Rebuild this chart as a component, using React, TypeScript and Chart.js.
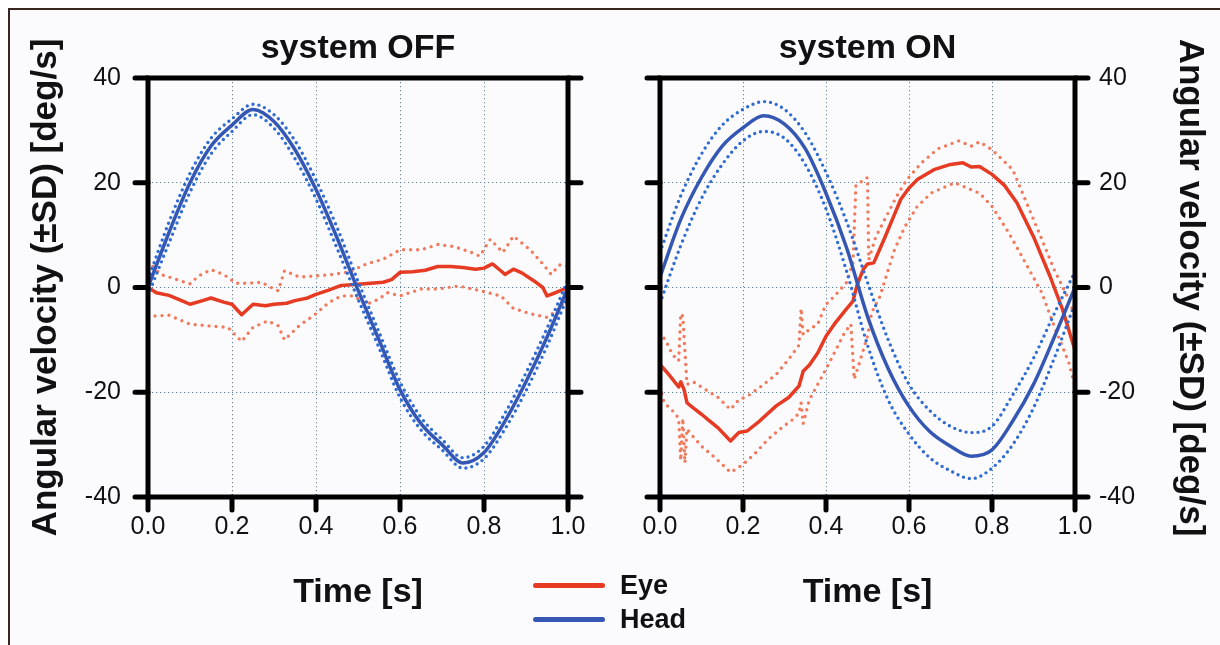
import React, { useEffect, useRef } from "react";
import { Chart, registerables } from "chart.js";

Chart.register(...registerables);

// ---------- text ----------
const panelTitles = ["system OFF", "system ON"];
const yAxisTitle = "Angular velocity (±SD) [deg/s]";
const xAxisTitle = "Time [s]";
const legendLabels = ["Eye", "Head"];

// ---------- axes ----------
const xMin = 0;
const xMax = 1;
const xStep = 0.2;
const yMin = -40;
const yMax = 40;
const yStep = 20;

// ---------- head (regular time base) ----------
const headTime = [0, 0.05, 0.1, 0.15, 0.2, 0.25, 0.3, 0.35, 0.4, 0.45, 0.5, 0.55, 0.6, 0.65, 0.7, 0.75, 0.8, 0.85, 0.9, 0.95, 1];

const offHeadMean = [0, 10.5, 20, 27, 31, 34, 31.7, 26.3, 18.7, 9.5, -0.5, -10, -19.5, -26, -30, -33.5, -31.5, -25.5, -18, -9.5, 0];
const offHeadUpper = [1.5, 12.5, 21.8, 28.5, 32.2, 35, 33, 28, 20.5, 11.5, 1.2, -8.5, -18, -24.8, -29, -32.5, -30.3, -24, -16.3, -7.8, 1.5];
const offHeadLower = [-1.5, 8.5, 18.2, 25.5, 29.8, 33, 30.4, 24.6, 16.9, 7.5, -2.2, -11.5, -21, -27.2, -31, -34.5, -32.7, -27, -19.7, -11.2, -1.5];

const onHeadMean = [2, 13, 21, 27, 30.5, 32.8, 31.2, 26.5, 18, 7.5, -5.5, -15.5, -22.7, -27.5, -30.3, -32.2, -31, -25.5, -18.5, -9.5, 0];
const onHeadUpper = [6.7, 17.5, 25.5, 31, 34, 35.5, 34, 29.5, 22, 12.5, 1, -10, -18.5, -23.5, -26.5, -27.7, -26.5, -20.5, -13.5, -5, 3];
const onHeadLower = [-3, 8, 17, 23.5, 28, 29.8, 28.5, 23.5, 15, 3, -11, -21.5, -28, -32.5, -35, -36.5, -34.5, -30, -23, -13.5, -3];

// ---------- eye, system OFF ----------
const offEyeMeanT = [0, 0.02, 0.05, 0.08, 0.1, 0.13, 0.15, 0.18, 0.2, 0.223, 0.25, 0.28, 0.3, 0.33, 0.35, 0.38, 0.4, 0.43, 0.46, 0.5, 0.53, 0.56, 0.58, 0.6, 0.63, 0.66, 0.69, 0.72, 0.75, 0.78, 0.8, 0.82, 0.84, 0.85, 0.87, 0.89, 0.92, 0.94, 0.95, 0.97, 1.0];
const offEyeMean = [0, -1, -1.5, -2.5, -3.2, -2.5, -2, -2.8, -3.2, -5.2, -3.2, -3.5, -3.2, -3, -2.5, -2, -1.3, -0.5, 0.4, 0.6, 0.8, 1, 1.5, 2.9, 3, 3.3, 4, 4, 3.8, 3.5, 3.7, 4.5, 3.2, 2.5, 3.5, 2.8, 1.2, 0, -1.6, -1, 0];

const offEyeUpperT = [0, 0.03, 0.05, 0.08, 0.1, 0.12, 0.15, 0.18, 0.21, 0.24, 0.27, 0.3, 0.31, 0.325, 0.36, 0.4, 0.44, 0.48, 0.52, 0.56, 0.6, 0.65, 0.69, 0.73, 0.77, 0.79, 0.815, 0.845, 0.87, 0.91, 0.94, 0.96, 0.98, 1.0];
const offEyeUpper = [5, 2.5, 2, 1.2, 0.7, 2.2, 3.4, 2.5, 0.8, 0.8, 1, -0.3, -0.6, 3.2, 2, 2.2, 2.5, 3, 4.5, 5.4, 7.2, 7.2, 8.2, 7.8, 6.7, 6, 9.2, 6.7, 9.8, 7.2, 4.5, 2.5, 4.3, 4];

const offEyeLowerT = [0, 0.05, 0.1, 0.14, 0.19, 0.223, 0.25, 0.285, 0.31, 0.325, 0.36, 0.4, 0.43, 0.46, 0.49, 0.52, 0.55, 0.57, 0.6, 0.65, 0.69, 0.74, 0.79, 0.84, 0.87, 0.91, 0.95, 0.98, 1.0];
const offEyeLower = [-5.5, -5.3, -7, -7.3, -7.6, -10.3, -7.6, -6.4, -7.3, -10, -7.3, -5, -2.9, -1.6, -1.6, -3.2, -2.2, -1, -1.6, -0.3, -0.3, 0.3, -0.6, -1.6, -4, -5, -5.7, -4, -1.5];

// ---------- eye, system ON ----------
const onEyeMeanT = [0, 0.02, 0.045, 0.05, 0.058, 0.065, 0.08, 0.1, 0.12, 0.14, 0.17, 0.18, 0.19, 0.21, 0.24, 0.28, 0.31, 0.335, 0.345, 0.36, 0.38, 0.4, 0.42, 0.445, 0.465, 0.475, 0.49, 0.5, 0.515, 0.54, 0.56, 0.58, 0.6, 0.62, 0.66, 0.7, 0.73, 0.75, 0.77, 0.8, 0.83, 0.86, 0.9, 0.94, 0.97, 1.0];
const onEyeMean = [-14.7, -16.5, -19, -18, -19.5, -22, -23, -24.2, -25.5, -26.8, -29.3, -28.5, -27.7, -27.4, -25.5, -22.6, -21, -18.8, -16, -14.8, -12.5, -9.3, -7, -4.5, -2.6, 0.5, 3.5, 4.5, 4.7, 9.2, 13, 16.8, 19, 20.6, 22.5, 23.5, 23.8, 23, 23.1, 21.6, 19.5, 16.2, 9.7, 2.1, -4.2, -12];

const onEyeUpperT = [0, 0.015, 0.03, 0.045, 0.05, 0.055, 0.06, 0.065, 0.08, 0.1, 0.12, 0.14, 0.17, 0.19, 0.21, 0.24, 0.28, 0.31, 0.335, 0.34, 0.345, 0.36, 0.38, 0.4, 0.42, 0.45, 0.465, 0.472, 0.5, 0.503, 0.52, 0.545, 0.57, 0.595, 0.63, 0.67, 0.72, 0.75, 0.77, 0.8, 0.85, 0.88, 0.92, 0.95, 0.985, 1.0];
const onEyeUpper = [-8.6, -10.3, -12.8, -14, -5, -5.5, -12, -18.5, -18, -19, -20, -21, -23.3, -21.4, -20.8, -19.1, -16.6, -13.7, -11, -4, -9, -8, -7, -3.2, -1.7, 1, 4.8, 19.5, 21, 5.3, 9.7, 13.5, 17.4, 20.6, 23.8, 26.5, 28, 27, 27.8, 26.3, 22.5, 16.8, 9.2, 3.4, -2.3, -5.5];

const onEyeLowerT = [0, 0.01, 0.03, 0.045, 0.05, 0.055, 0.06, 0.065, 0.08, 0.1, 0.137, 0.17, 0.2, 0.23, 0.26, 0.29, 0.32, 0.335, 0.34, 0.345, 0.36, 0.38, 0.4, 0.42, 0.445, 0.46, 0.468, 0.48, 0.5, 0.51, 0.53, 0.55, 0.565, 0.59, 0.62, 0.655, 0.71, 0.77, 0.8, 0.84, 0.88, 0.92, 0.95, 0.985, 1.0];
const onEyeLower = [-19, -22, -23.5, -25, -33, -25, -33.5, -27, -28.5, -30.3, -32.8, -35.3, -33.8, -31.6, -29, -27, -25.2, -24, -22, -26, -21.4, -18.5, -15.6, -12.5, -8.6, -7, -17.5, -14.5, -9.3, -4.8, -1.7, 3.4, 7.2, 11.6, 15.5, 18.1, 20, 18, 15.5, 10.5, 4.8, -1, -7.4, -14.3, -18.9];

// ---------- styles ----------
const EYE = "#e63a22";
const EYE_SD = "#f27a5c";
const HEAD = "#3457b4";
const HEAD_SD = "#2f6bd2";
const FONT = "'Liberation Sans', Arial, sans-serif";

const pts = (t: number[], v: number[]) => t.map((x, i) => ({ x, y: v[i] }));

function makeDatasets(p: {
  headMean: number[]; headUp: number[]; headLo: number[];
  eyeMeanT: number[]; eyeMean: number[];
  eyeUpT: number[]; eyeUp: number[];
  eyeLoT: number[]; eyeLo: number[];
}) {
  const solid = (data: any, color: string, smooth: boolean) => ({
    data, borderColor: color, borderWidth: 3.5, pointRadius: 0,
    tension: smooth ? 0.4 : 0, cubicInterpolationMode: smooth ? "monotone" : "default",
    borderCapStyle: "round", borderJoinStyle: "round", fill: false,
  });
  const dotted = (data: any, color: string, smooth: boolean, gap: number) => ({
    data, borderColor: color, borderWidth: 3.4, pointRadius: 0,
    tension: smooth ? 0.4 : 0, cubicInterpolationMode: smooth ? "monotone" : "default",
    borderDash: [0, gap], borderCapStyle: "round", borderJoinStyle: "round", fill: false,
  });
  return [
    solid(pts(headTime, p.headMean), HEAD, true),
    dotted(pts(headTime, p.headUp), HEAD_SD, true, 6),
    dotted(pts(headTime, p.headLo), HEAD_SD, true, 6),
    solid(pts(p.eyeMeanT, p.eyeMean), EYE, false),
    dotted(pts(p.eyeUpT, p.eyeUp), EYE_SD, false, 7),
    dotted(pts(p.eyeLoT, p.eyeLo), EYE_SD, false, 7),
  ];
}

const framePlugin = {
  id: "frame",
  afterDatasetsDraw(chart: any) {
    const { ctx, chartArea } = chart;
    const { left, right, top, bottom } = chartArea;
    const xs = chart.scales.x;
    const ys = chart.scales.y;
    ctx.save();
    ctx.strokeStyle = "#000";
    ctx.lineWidth = 5;
    ctx.lineCap = "round";
    ctx.beginPath();
    ys.ticks.forEach((t: any) => {
      const py = ys.getPixelForValue(t.value);
      ctx.moveTo(left - 13, py);
      ctx.lineTo(left, py);
      ctx.moveTo(right, py);
      ctx.lineTo(right + 13, py);
    });
    xs.ticks.forEach((t: any) => {
      const px = xs.getPixelForValue(t.value);
      ctx.moveTo(px, bottom);
      ctx.lineTo(px, bottom + 13);
    });
    ctx.stroke();
    ctx.lineCap = "butt";
    ctx.lineJoin = "miter";
    ctx.strokeRect(left, top, right - left, bottom - top);
    ctx.restore();
  },
};

function makeConfig(side: "left" | "right", title: string, datasets: any[]) {
  const zeroPad = (s: any) => {
    s.paddingLeft = 0; s.paddingRight = 0; s.paddingTop = 0; s.paddingBottom = 0;
  };
  return {
    type: "line",
    data: { datasets },
    plugins: [framePlugin],
    options: {
      responsive: false,
      animation: false,
      events: [],
      layout: { padding: side === "left" ? { left: 0, right: 42, top: 0, bottom: 0 } : { left: 50, right: 0, top: 0, bottom: 0 } },
      plugins: {
        legend: { display: false },
        tooltip: { enabled: false },
        title: {
          display: true,
          text: title,
          fullSize: false,
          color: "#111",
          font: { family: FONT, size: 34, weight: "bold", lineHeight: 1.2 },
          padding: { top: 28.6, bottom: 8.6 },
        },
      },
      scales: {
        x: {
          type: "linear",
          min: xMin,
          max: xMax,
          afterFit: (s: any) => { s.height = 148; zeroPad(s); },
          ticks: {
            stepSize: xStep,
            padding: 15,
            color: "#111",
            font: { family: FONT, size: 25 },
            callback: (v: any) => Number(v).toFixed(1),
          },
          grid: { drawTicks: false, color: "#5f8299", lineWidth: 1 },
          border: { display: false, dash: [1.2, 2.8] },
          title: {
            display: true,
            text: xAxisTitle,
            color: "#111",
            font: { family: FONT, size: 34, weight: "bold", lineHeight: 1.2 },
            padding: { top: 0, bottom: 31.6 },
          },
        },
        y: {
          type: "linear",
          position: side,
          min: yMin,
          max: yMax,
          afterFit: (s: any) => { s.width = side === "left" ? 148 : 145; zeroPad(s); },
          ticks: {
            stepSize: yStep,
            padding: side === "left" ? 27 : 24,
            color: "#111",
            font: { family: FONT, size: 25 },
          },
          grid: { drawTicks: false, color: "#5f8299", lineWidth: 1 },
          border: { display: false, dash: [1.2, 2.8] },
          title: {
            display: true,
            text: yAxisTitle,
            color: "#111",
            font: { family: FONT, size: 35, weight: "bold", lineHeight: 1.2 },
            padding: { top: side === "left" ? 25 : 9, bottom: 0 },
          },
        },
      },
    },
  } as any;
}

export default function App() {
  const leftRef = useRef<HTMLCanvasElement>(null);
  const rightRef = useRef<HTMLCanvasElement>(null);

  useEffect(() => {
    const left = new Chart(
      leftRef.current as HTMLCanvasElement,
      makeConfig("left", panelTitles[0], makeDatasets({
        headMean: offHeadMean, headUp: offHeadUpper, headLo: offHeadLower,
        eyeMeanT: offEyeMeanT, eyeMean: offEyeMean,
        eyeUpT: offEyeUpperT, eyeUp: offEyeUpper,
        eyeLoT: offEyeLowerT, eyeLo: offEyeLower,
      }))
    );
    const right = new Chart(
      rightRef.current as HTMLCanvasElement,
      makeConfig("right", panelTitles[1], makeDatasets({
        headMean: onHeadMean, headUp: onHeadUpper, headLo: onHeadLower,
        eyeMeanT: onEyeMeanT, eyeMean: onEyeMean,
        eyeUpT: onEyeUpperT, eyeUp: onEyeUpper,
        eyeLoT: onEyeLowerT, eyeLo: onEyeLower,
      }))
    );
    return () => {
      left.destroy();
      right.destroy();
    };
  }, []);

  const legendColors = [EYE, HEAD];

  return (
    <div style={{ position: "fixed", left: 0, top: 0, width: 1220, height: 645, overflow: "hidden", background: "#fff" }}>
      <div
        style={{
          position: "absolute", left: 8, top: 8, width: 1240, height: 660,
          borderLeft: "2px solid #3a2620", borderTop: "2px solid #3a2620",
          background: "#fbfbfd",
        }}
      />
      <canvas ref={leftRef} width={610} height={645} style={{ position: "absolute", left: 0, top: 0, width: 610, height: 645 }} />
      <canvas ref={rightRef} width={610} height={645} style={{ position: "absolute", left: 610, top: 0, width: 610, height: 645 }} />
      <div style={{ position: "absolute", left: 533, top: 568 }}>
        {legendLabels.map((label, i) => (
          <div key={label} style={{ display: "flex", alignItems: "center", height: 34 }}>
            <div style={{ width: 72, height: 5, borderRadius: 3, background: legendColors[i], marginRight: 15 }} />
            <span style={{ fontFamily: FONT, fontWeight: "bold", fontSize: 27, lineHeight: "34px", color: "#111" }}>{label}</span>
          </div>
        ))}
      </div>
    </div>
  );
}
